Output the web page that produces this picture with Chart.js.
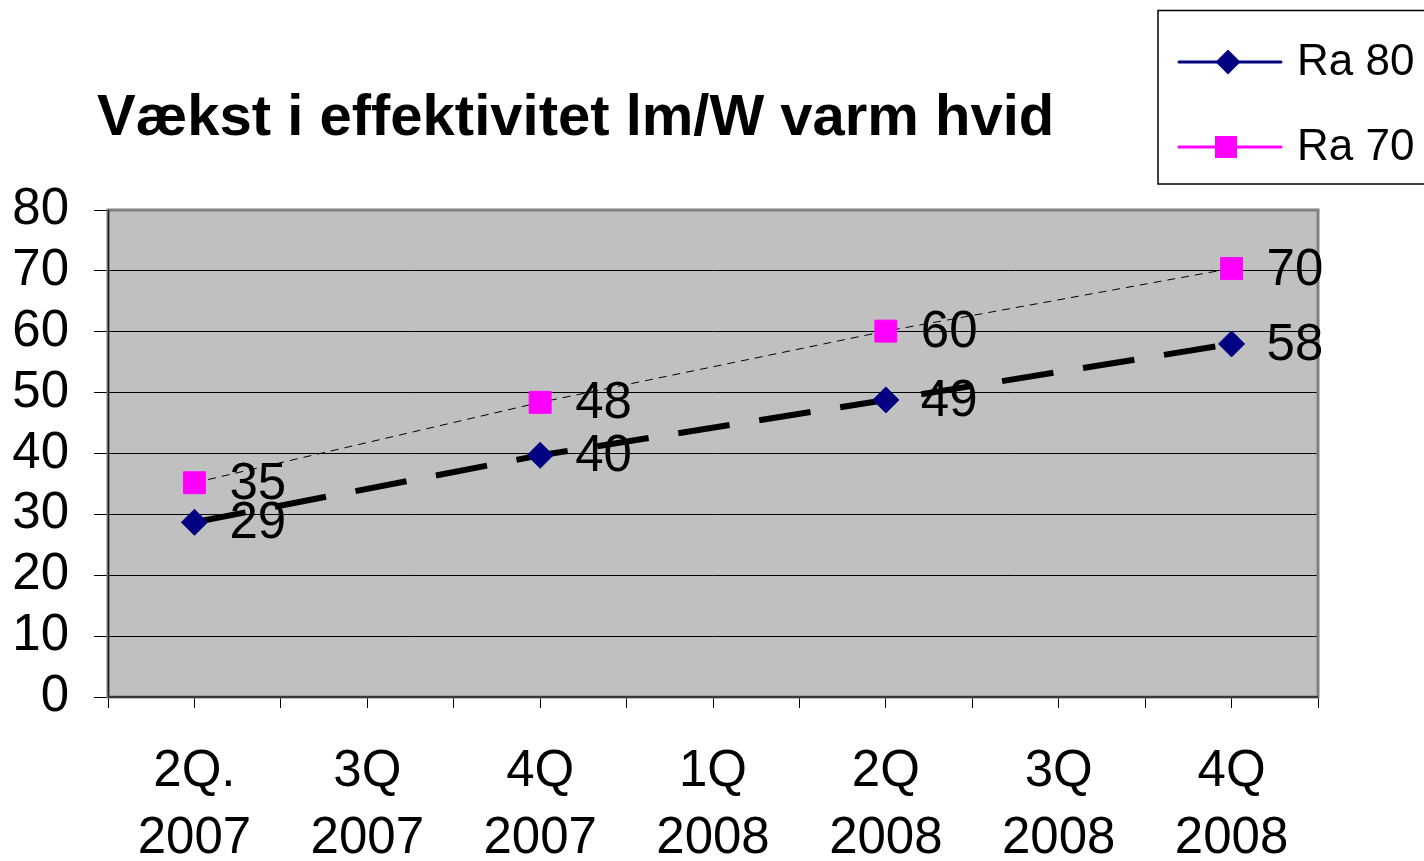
<!DOCTYPE html>
<html>
<head>
<meta charset="utf-8">
<script src="https://cdn.jsdelivr.net/npm/chart.js@4"></script>
<style>
html,body{margin:0;padding:0;background:#fff;overflow:hidden}
#wrap{position:relative;width:1424px;height:861px}
</style>
</head>
<body>
<div id="wrap"><canvas id="c" width="1424" height="861"></canvas></div>
<script>
// ---- data ----
const categories = [['2Q.','2007'],['3Q','2007'],['4Q','2007'],['1Q','2008'],['2Q','2008'],['3Q','2008'],['4Q','2008']];
const seriesNames = ['Ra 80', 'Ra 70'];
const ra80 = [28.7, null, 39.7, null, 48.8, null, 58.0];
const ra70 = [35.2, null, 48.4, null, 60.1, null, 70.4];
const yTickValues = [0, 10, 20, 30, 40, 50, 60, 70, 80];
const titleText = 'Vækst i effektivitet lm/W varm hvid';

const FONT = "'Liberation Sans', Arial, sans-serif";
const legendColors = ['#000080', '#FF00FF'];

function toPoints(arr){
  return arr.map((v,i)=>({x:i,y:v})).filter(p=>p.y!==null);
}

const bgPlugin = {
  id:'bg',
  beforeDraw(chart){
    const {ctx, chartArea:a} = chart;
    ctx.save();
    ctx.fillStyle = '#C0C0C0';
    ctx.fillRect(a.left, a.top, a.right-a.left, a.bottom-a.top);
    ctx.restore();
  },
  beforeDatasetsDraw(chart){
    const {ctx, chartArea:a} = chart;
    ctx.save();
    ctx.strokeStyle = '#808080';
    ctx.lineWidth = 3;
    ctx.strokeRect(a.left, a.top, a.right-a.left, a.bottom-a.top);
    ctx.strokeStyle = '#202020';
    ctx.lineWidth = 1.5;
    ctx.beginPath();
    ctx.moveTo(a.left, a.bottom); ctx.lineTo(a.right, a.bottom);
    ctx.moveTo(a.left+0.5, a.top); ctx.lineTo(a.left+0.5, a.bottom);
    ctx.stroke();
    ctx.restore();
  }
};

const labelPlugin = {
  id:'dlabels',
  afterDatasetsDraw(chart){
    const ctx = chart.ctx;
    ctx.save();
    ctx.font = '51px ' + FONT;
    ctx.fillStyle = '#000';
    ctx.textAlign = 'left';
    ctx.textBaseline = 'middle';
    chart.data.datasets.forEach((ds, di)=>{
      const meta = chart.getDatasetMeta(di);
      meta.data.forEach((pt, i)=>{
        const v = ds.data[i].y;
        ctx.fillText(String(Math.round(v)), pt.x + 35, pt.y + 2);
      });
    });
    ctx.restore();
  }
};

const titleLegendPlugin = {
  id:'titleLegend',
  afterDraw(chart){
    const ctx = chart.ctx;
    ctx.save();
    // title
    ctx.font = 'bold 58px ' + FONT;
    ctx.fillStyle = '#000';
    ctx.textAlign = 'left';
    ctx.textBaseline = 'alphabetic';
    ctx.fillText(titleText, 97, 135);
    // legend box
    ctx.fillStyle = '#fff';
    ctx.fillRect(1158, 10, 270, 174);
    ctx.strokeStyle = '#000';
    ctx.lineWidth = 1.5;
    ctx.strokeRect(1158, 10.5, 270, 173.5);
    const rows = [62, 147];
    seriesNames.forEach((name, i)=>{
      const y = rows[i];
      ctx.strokeStyle = legendColors[i];
      ctx.lineWidth = 3;
      ctx.lineCap = 'round';
      ctx.beginPath(); ctx.moveTo(1179, y); ctx.lineTo(1281, y); ctx.stroke();
      ctx.fillStyle = legendColors[i];
      ctx.beginPath();
      if (i === 0) {
        const r = 12.5;
        ctx.moveTo(1228, y - r); ctx.lineTo(1228 + r, y); ctx.lineTo(1228, y + r); ctx.lineTo(1228 - r, y); ctx.closePath();
      } else {
        ctx.rect(1215, y - 11, 22, 22);
      }
      ctx.fill();
      ctx.fillStyle = '#000';
      ctx.font = '44px ' + FONT;
      ctx.textBaseline = 'middle';
      ctx.fillText(name, 1297, y + 1);
    });
    ctx.restore();
  }
};

new Chart(document.getElementById('c'), {
  type:'line',
  data:{
    datasets:[
      {
        label: seriesNames[0],
        data: toPoints(ra80),
        borderColor:'#000',
        borderWidth:6,
        borderDash:[52,30],
        pointStyle:'rectRot',
        pointRadius:13,
        pointHoverRadius:13,
        pointBackgroundColor:'#000080',
        pointBorderColor:'#000080',
        pointBorderWidth:1,
        tension:0,
        spanGaps:true
      },
      {
        label: seriesNames[1],
        data: toPoints(ra70),
        borderColor:'#000',
        borderWidth:1,
        borderDash:[8,6],
        pointStyle:'rect',
        pointRadius:15.5,
        pointHoverRadius:15.5,
        pointBackgroundColor:'#FF00FF',
        pointBorderColor:'#FF00FF',
        pointBorderWidth:1,
        tension:0,
        spanGaps:true
      }
    ]
  },
  options:{
    responsive:false,
    animation:false,
    devicePixelRatio:1,
    layout:{padding:{top:210, right:106, left:0, bottom:0}},
    plugins:{legend:{display:false}, title:{display:false}, tooltip:{enabled:false}},
    scales:{
      x:{
        type:'linear',
        min:-0.5, max:6.5,
        ticks:{
          stepSize:0.5,
          autoSkip:false,
          maxRotation:0,
          padding:31,
          color:'#000',
          font:{family:FONT, size:51, lineHeight:1.3},
          callback:(v)=>{
            const r = Math.round(v);
            return Math.abs(v - r) < 1e-6 && r >= 0 && r < categories.length ? categories[r] : '';
          }
        },
        grid:{drawOnChartArea:false, tickLength:11, color:'#000', tickColor:'#000'},
        border:{display:true, color:'#000', width:1},
        afterFit:(s)=>{ s.height = 164; }
      },
      y:{
        min:0, max:80,
        afterBuildTicks:(s)=>{ s.ticks = yTickValues.map(v=>({value:v})); },
        ticks:{
          autoSkip:false,
          padding:25,
          color:'#000',
          font:{family:FONT, size:51}
        },
        grid:{color:'#000', lineWidth:1, tickLength:14, tickColor:'#000'},
        border:{display:true, color:'#000', width:1},
        afterFit:(s)=>{ s.width = 108; }
      }
    }
  },
  plugins:[bgPlugin, labelPlugin, titleLegendPlugin]
});
</script>
</body>
</html>
